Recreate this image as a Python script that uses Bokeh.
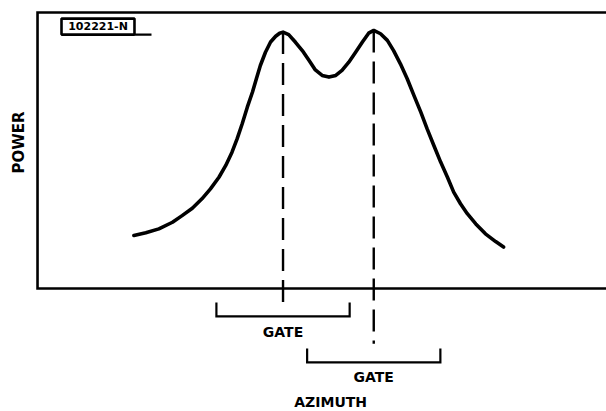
import math

from bokeh.core.properties import value
from bokeh.embed import file_html
from bokeh.models import Range1d
from bokeh.plotting import figure
from bokeh.resources import INLINE

# Received power versus antenna azimuth (arbitrary units): two overlapping returns
azimuth = [17.0, 19.1, 21.4, 23.8, 25.5, 27.3, 29.0, 30.5, 32.0, 33.2, 34.3, 35.2,
           36.1, 37.0, 37.9, 38.6, 39.3, 40.2, 41.1, 42.0, 42.7, 43.3, 44.3, 45.5,
           46.7, 47.9, 49.0, 50.2, 51.4, 52.6, 53.7, 54.9, 56.1, 57.3, 58.4, 59.3,
           60.5, 61.7, 62.8, 64.0, 65.2, 66.4, 67.6, 68.7, 69.9, 71.1, 72.3, 73.4,
           74.6, 75.8, 77.3, 79.0, 80.8, 82.2]
power = [0.192, 0.202, 0.216, 0.240, 0.264, 0.291, 0.325, 0.361, 0.403, 0.446, 0.494, 0.542,
         0.597, 0.657, 0.711, 0.760, 0.808, 0.856, 0.893, 0.914, 0.925, 0.929, 0.920, 0.892,
         0.862, 0.826, 0.792, 0.772, 0.766, 0.772, 0.790, 0.820, 0.856, 0.893, 0.925, 0.935,
         0.923, 0.899, 0.862, 0.814, 0.760, 0.699, 0.639, 0.579, 0.518, 0.458, 0.403, 0.349,
         0.307, 0.271, 0.234, 0.198, 0.170, 0.150]

# The two peaks and the range gates centred on them
peak_azimuth = [43.3, 59.3]
peak_power = [0.929, 0.935]
gate_width = 23.5
gate_labels = ["GATE", "GATE"]
tag_text = "102221-N"
x_label = "AZIMUTH"
y_label = "POWER"

# Layout (data units): where each gate bracket sits below the frame
gate_top = [-0.051, -0.217]
gate_bottom = [-0.101, -0.268]
gate_label_y = [-0.159, -0.319]
dash_end = [-0.054, -0.200]

FONT = value("DejaVu Sans")
INK = "black"

p = figure(width=606, height=411,
           x_range=Range1d(-6.53, 100.35), y_range=Range1d(-0.4457, 1.0435),
           x_axis_type=None, y_axis_type=None,
           output_backend="svg", toolbar_location=None,
           min_border=0, outline_line_color=None)
p.grid.visible = False
p.background_fill_color = "white"
p.border_fill_color = "white"

# Open box: left, top and bottom edges (right edge runs off the page)
p.line(x=[101, 0, 0, 101], y=[1.0, 1.0, 0.0, 0.0], line_color=INK,
       line_width=2.6, line_join="miter")

# Figure tag in the upper-left corner
p.quad(left=[4.23], right=[17.1], top=[0.978], bottom=[0.920],
       fill_color="white", line_color=INK, line_width=2.6)
p.segment(x0=[17.1], y0=[0.920], x1=[20.1], y1=[0.920], line_color=INK, line_width=2.4)
p.text(x=[10.67], y=[0.949], text=[tag_text], text_align="center",
       text_baseline="middle", text_font=FONT, text_font_size="11px",
       text_font_style="bold", text_color=INK)

# Power curve
p.line(x=azimuth, y=power, line_color=INK, line_width=3.6,
       line_join="round", line_cap="round")

# Dashed markers from each peak down through the azimuth axis
for xa, yp, ye in zip(peak_azimuth, peak_power, dash_end):
    p.line(x=[xa, xa], y=[yp, ye], line_color=INK, line_width=2.4,
           line_dash="22 9")

# Gate brackets and their labels
for xc, top, bot, ly, lab in zip(peak_azimuth, gate_top, gate_bottom,
                                 gate_label_y, gate_labels):
    left = xc - gate_width / 2
    right = xc + gate_width / 2
    p.line(x=[left, left, right, right], y=[top, bot, bot, top],
           line_color=INK, line_width=2.2, line_join="miter")
    p.text(x=[xc], y=[ly], text=[lab], text_align="center", text_baseline="middle",
           text_font=FONT, text_font_size="14px", text_font_style="bold",
           text_color=INK)

# Axis titles
p.text(x=[51.7], y=[-0.413], text=[x_label], text_align="center",
       text_baseline="middle", text_font=FONT, text_font_size="14px",
       text_font_style="bold", text_color=INK)
p.text(x=[-3.35], y=[0.529], text=[y_label], angle=math.pi / 2,
       text_align="center", text_baseline="middle", text_font=FONT,
       text_font_size="15px", text_font_style="bold", text_color=INK)

open("out.html", "w").write(file_html(p, INLINE))
